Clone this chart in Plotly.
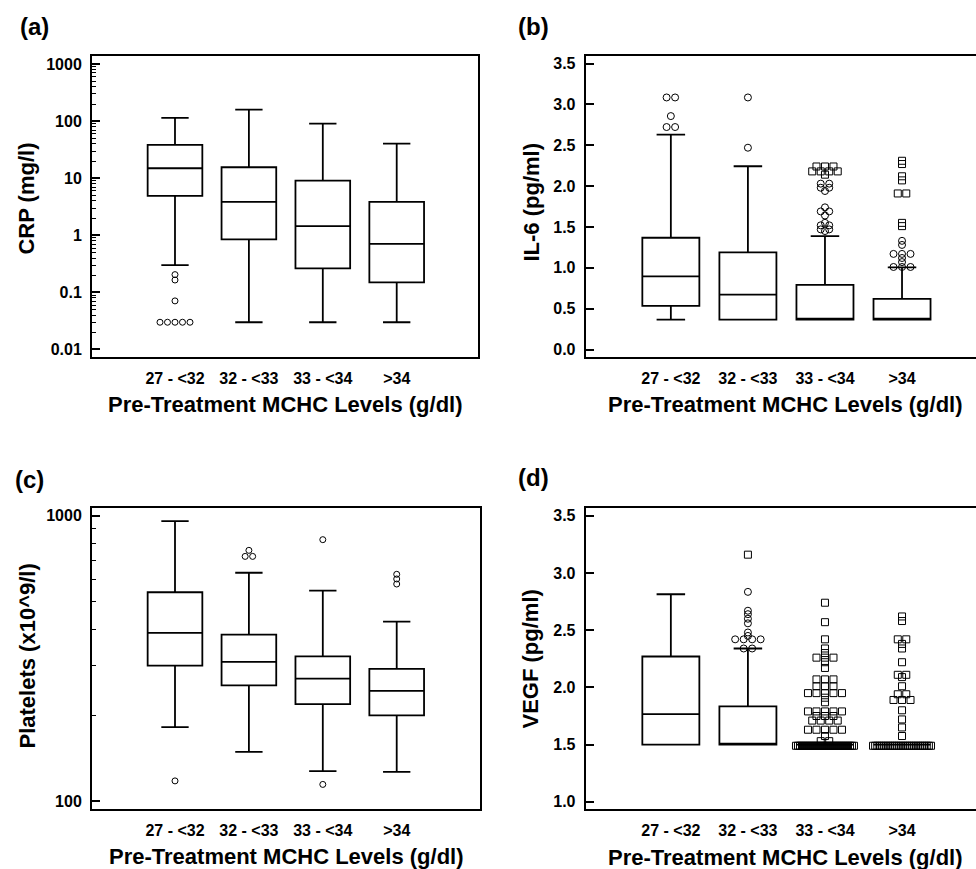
import plotly.graph_objects as go

W, H = 976, 869

categories = ["27 - <32", "32 - <33", "33 - <34", ">34"]
xtitle = "Pre-Treatment MCHC Levels (g/dl)"

# ---------------- (a) CRP (mg/l) ----------------
crp_q1 = [4.9, 0.85, 0.264, 0.150]
crp_median = [15.0, 3.87, 1.45, 0.71]
crp_q3 = [38.4, 15.6, 9.1, 3.87]
crp_lower = [0.30, 0.03, 0.03, 0.03]
crp_upper = [114, 159, 90.6, 40.5]
crp_out_circle = [[0.205, 0.165, 0.071, 0.03, 0.03, 0.03, 0.03, 0.03], [], [], []]
crp_out_square = [[], [], [], []]

# ---------------- (b) IL-6 (pg/ml) ----------------
il6_q1 = [0.533, 0.366, 0.366, 0.366]
il6_median = [0.895, 0.672, 0.366, 0.366]
il6_q3 = [1.368, 1.188, 0.79, 0.619]
il6_lower = [0.366, 0.366, 0.366, 0.366]
il6_upper = [2.63, 2.243, 1.388, 1.005]
il6_out_circle = [
    [3.085, 3.085, 2.857, 2.723, 2.723],
    [3.085, 2.47],
    [2.03, 2.03, 1.98, 1.98, 1.94, 1.74, 1.69, 1.69, 1.64, 1.55, 1.52, 1.52, 1.47, 1.47, 1.45],
    [1.33, 1.28, 1.17, 1.17, 1.17, 1.12, 1.07, 1.01, 1.01, 1.01],
]
il6_out_square = [
    [],
    [],
    [2.24, 2.24, 2.24, 2.18, 2.18, 2.18, 2.18, 2.14],
    [2.31, 2.27, 2.12, 2.07, 1.91, 1.91, 1.55, 1.51],
]

# ---------------- (c) Platelets (x10^9/l) ----------------
plt_q1 = [299, 255, 219, 200]
plt_median = [389, 308, 269, 244]
plt_q3 = [540, 384, 322, 291]
plt_lower = [182, 149, 127.6, 126.9]
plt_upper = [958, 632, 547, 426]
plt_out_circle = [[118], [757, 721, 721], [825, 114.7], [624, 601, 577]]
plt_out_square = [[], [], [], []]

# ---------------- (d) VEGF (pg/ml) ----------------
vegf_q1 = [1.5, 1.5, 1.5, 1.5]
vegf_median = [1.767, 1.5, 1.5, 1.5]
vegf_q3 = [2.27, 1.834, 1.5, 1.5]
vegf_lower = [1.5, 1.5, 1.5, 1.5]
vegf_upper = [2.814, 2.34, 1.5, 1.5]
vegf_out_circle = [
    [],
    [2.835, 2.67, 2.64, 2.60, 2.56, 2.48, 2.45, 2.42, 2.42, 2.42, 2.42, 2.34, 2.34],
    [],
    [],
]
vegf_out_square = [
    [],
    [3.16],
    [2.74, 2.57, 2.42, 2.34, 2.30, 2.26, 2.26, 2.26, 2.22, 2.17,
     2.07, 2.07, 2.07, 2.01, 2.01, 2.01, 1.95, 1.95, 1.95, 1.95, 1.95,
     1.91, 1.87, 1.79, 1.79, 1.79, 1.79, 1.79, 1.75, 1.75, 1.75,
     1.71, 1.71, 1.71, 1.71, 1.63, 1.63, 1.63, 1.63, 1.63, 1.575, 1.53, 1.53,
     1.49, 1.49, 1.49, 1.49, 1.49, 1.49, 1.49, 1.49, 1.49, 1.49,
     1.49, 1.49, 1.49, 1.49, 1.49, 1.49, 1.49, 1.49, 1.49, 1.49,
     1.49, 1.49, 1.49, 1.49, 1.49, 1.49, 1.49, 1.49, 1.49, 1.49],
    [2.62, 2.58, 2.42, 2.42, 2.38, 2.34, 2.22, 2.11, 2.11, 2.09, 2.01,
     1.94, 1.94, 1.89, 1.89, 1.89, 1.80, 1.72, 1.65, 1.575,
     1.49, 1.49, 1.49, 1.49, 1.49, 1.49, 1.49, 1.49, 1.49, 1.49,
     1.49, 1.49, 1.49, 1.49, 1.49, 1.49, 1.49, 1.49, 1.49, 1.49,
     1.49, 1.49, 1.49, 1.49, 1.49, 1.49, 1.49, 1.49],
]

FONT = "Liberation Sans, Arial, sans-serif"

panels = [
    dict(n="", q1=crp_q1, med=crp_median, q3=crp_q3, lo=crp_lower, hi=crp_upper,
         circ=crp_out_circle, sq=crp_out_square,
         xdom=(92, 478), ydom=(55, 357), xr=(-1.123, 4.10), yr=(-2.135, 3.145), log=True,
         yvals=[0.01, 0.1, 1, 10, 100, 1000], ytext=["0.01", "0.1", "1", "10", "100", "1000"],
         minor=[k * 10 ** d for d in range(-2, 3) for k in range(2, 10)],
         msize=6, right=True,
         label="(a)", label_xy=(18, 26), ytitle="CRP (mg/l)", ytitle_xy=(27, 198), xtitle_xy=(285, 404)),
    dict(n="2", q1=il6_q1, med=il6_median, q3=il6_q3, lo=il6_lower, hi=il6_upper,
         circ=il6_out_circle, sq=il6_out_square,
         xdom=(585.7, 976), ydom=(55, 357), xr=(-1.105, 3.96), yr=(-0.094, 3.594), log=False,
         yvals=[0, 0.5, 1, 1.5, 2, 2.5, 3, 3.5], ytext=["0.0", "0.5", "1.0", "1.5", "2.0", "2.5", "3.0", "3.5"],
         minor=None, msize=7, right=False,
         label="(b)", label_xy=(516, 26), ytitle="IL-6 (pg/ml)", ytitle_xy=(532, 202), xtitle_xy=(785, 404)),
    dict(n="3", q1=plt_q1, med=plt_median, q3=plt_q3, lo=plt_lower, hi=plt_upper,
         circ=plt_out_circle, sq=plt_out_square,
         xdom=(92, 480), ydom=(507.7, 810), xr=(-1.123, 4.127), yr=(1.973, 3.029), log=True,
         yvals=[100, 1000], ytext=["100", "1000"],
         minor=[200, 300, 400, 500, 600, 700, 800, 900],
         msize=6, right=True,
         label="(c)", label_xy=(13, 480), ytitle="Platelets (x10^9/l)", ytitle_xy=(27, 657), xtitle_xy=(286, 857)),
    dict(n="4", q1=vegf_q1, med=vegf_median, q3=vegf_q3, lo=vegf_lower, hi=vegf_upper,
         circ=vegf_out_circle, sq=vegf_out_square,
         xdom=(585.7, 976), ydom=(507.7, 810), xr=(-1.105, 3.96), yr=(0.936, 3.572), log=False,
         yvals=[1, 1.5, 2, 2.5, 3, 3.5], ytext=["1.0", "1.5", "2.0", "2.5", "3.0", "3.5"],
         minor=None, msize=7, right=False,
         label="(d)", label_xy=(516, 478), ytitle="VEGF (pg/ml)", ytitle_xy=(530, 660), xtitle_xy=(785, 858)),
]


def spread(values, px_per_unit, spacing_px, max_span_px=58):
    """Horizontal offsets (category units) for identical values, placed side by side."""
    counts = {}
    for v in values:
        counts[v] = counts.get(v, 0) + 1
    seen = {}
    offs = []
    for v in values:
        n = counts[v]
        i = seen.get(v, 0)
        seen[v] = i + 1
        if n == 1:
            offs.append(0.0)
            continue
        span = min((n - 1) * spacing_px, max_span_px)
        step = span / (n - 1)
        offs.append((-span / 2 + i * step) / px_per_unit)
    return offs


fig = go.Figure()
layout = dict(width=W, height=H, margin=dict(l=0, r=0, t=0, b=0),
              paper_bgcolor="white", plot_bgcolor="white", showlegend=False)
annotations = []

for p in panels:
    n = p["n"]
    xa, ya = "x" + n, "y" + n
    ppu = (p["xdom"][1] - p["xdom"][0]) / (p["xr"][1] - p["xr"][0])
    pos = list(range(len(categories)))

    fig.add_trace(go.Box(
        x=pos, q1=p["q1"], median=p["med"], q3=p["q3"],
        lowerfence=p["lo"], upperfence=p["hi"],
        boxpoints=False, width=0.74, whiskerwidth=0.5,
        fillcolor="white", line=dict(color="black", width=1.8),
        hoverinfo="skip", xaxis=xa, yaxis=ya))

    for kind, symbol in (("circ", "circle-open"), ("sq", "square-open")):
        xs, ys = [], []
        for ci, vals in enumerate(p[kind]):
            if not vals:
                continue
            offs = spread(vals, ppu, p["msize"] + 1.5)
            xs += [ci + o for o in offs]
            ys += list(vals)
        if xs:
            fig.add_trace(go.Scatter(
                x=xs, y=ys, mode="markers",
                marker=dict(symbol=symbol, size=p["msize"], color="black", line=dict(width=1)),
                hoverinfo="skip", xaxis=xa, yaxis=ya))

    xkey = "xaxis" + n
    ykey = "yaxis" + n
    layout[xkey] = dict(
        domain=[p["xdom"][0] / W, p["xdom"][1] / W],
        range=list(p["xr"]), anchor=ya,
        tickmode="array", tickvals=pos, ticktext=categories,
        ticks="", showline=True, linecolor="black", linewidth=2, mirror=True,
        showgrid=False, zeroline=False, ticklabelstandoff=6,
        tickfont=dict(family=FONT, size=16, color="black", weight="bold"))
    yd = dict(
        domain=[1 - p["ydom"][1] / H, 1 - p["ydom"][0] / H],
        range=list(p["yr"]), anchor=xa,
        type="log" if p["log"] else "linear",
        tickmode="array", tickvals=p["yvals"], ticktext=p["ytext"],
        ticks="inside", ticklen=8, tickwidth=1.5, tickcolor="black",
        showline=True, linecolor="black", linewidth=2, mirror=p["right"],
        showgrid=False, zeroline=False, ticklabelstandoff=5,
        tickfont=dict(family=FONT, size=16, color="black", weight="bold"))
    if p["minor"]:
        yd["minor"] = dict(tickmode="array", tickvals=p["minor"], ticks="inside",
                           ticklen=4, tickwidth=1, tickcolor="black", showgrid=False)
    layout[ykey] = yd

    annotations.append(dict(text=p["label"], x=p["label_xy"][0] / W, y=1 - p["label_xy"][1] / H,
                            xref="paper", yref="paper", xanchor="left", yanchor="middle",
                            showarrow=False, font=dict(family=FONT, size=24, color="black", weight="bold")))
    annotations.append(dict(text=p["ytitle"], x=p["ytitle_xy"][0] / W, y=1 - p["ytitle_xy"][1] / H,
                            xref="paper", yref="paper", xanchor="center", yanchor="middle",
                            textangle=-90, showarrow=False,
                            font=dict(family=FONT, size=22, color="black", weight="bold")))
    annotations.append(dict(text=xtitle, x=p["xtitle_xy"][0] / W, y=1 - p["xtitle_xy"][1] / H,
                            xref="paper", yref="paper", xanchor="center", yanchor="middle",
                            showarrow=False, font=dict(family=FONT, size=22, color="black", weight="bold")))

layout["annotations"] = annotations
fig.update_layout(**layout)
fig.write_html("out.html", config={"displayModeBar": False},
               post_script="document.body.style.margin='0px';document.body.style.overflow='hidden';")
